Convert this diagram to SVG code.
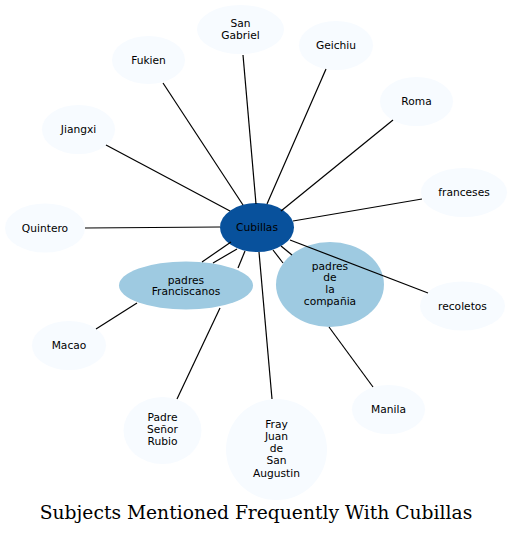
<svg xmlns="http://www.w3.org/2000/svg" width="512" height="536" viewBox="0 0 512 536">
<style>
.light{fill:#f7fbff;stroke:none}
.mid{fill:#9ecae1;stroke:none}
.dark{fill:#08519c;stroke:none}
text{font-family:"DejaVu Sans","Noto Sans",sans-serif;font-size:10.67px;fill:#000;text-anchor:middle}
.edges line{stroke:#000;stroke-width:1.2}
.title{font-family:"DejaVu Serif",serif;font-size:18.7px;text-anchor:middle}
</style>
<rect width="512" height="536" fill="#fff"/>
<g id="cubillas"><ellipse class="dark" cx="257" cy="227.5" rx="37" ry="24.5"/><text x="257" y="231.3">Cubillas</text></g>
<g id="sangabriel"><ellipse class="light" cx="240.5" cy="29.5" rx="43.5" ry="24.5"/><text x="240.5" y="26.8">San</text><text x="240.5" y="38.8">Gabriel</text></g>
<g id="fukien"><ellipse class="light" cx="148.5" cy="60" rx="36.5" ry="24"/><text x="148.5" y="63.8">Fukien</text></g>
<g id="geichiu"><ellipse class="light" cx="336" cy="45.5" rx="37" ry="24.5"/><text x="336" y="49.3">Geichiu</text></g>
<g id="roma"><ellipse class="light" cx="416.5" cy="101.5" rx="36.5" ry="24.5"/><text x="416.5" y="105.3">Roma</text></g>
<g id="jiangxi"><ellipse class="light" cx="78.5" cy="129.5" rx="36.5" ry="24.5"/><text x="78.5" y="133.3">Jiangxi</text></g>
<g id="franceses"><ellipse class="light" cx="464" cy="192.5" rx="43" ry="24.5"/><text x="464" y="196.3">franceses</text></g>
<g id="quintero"><ellipse class="light" cx="45" cy="228" rx="40" ry="24.5"/><text x="45" y="231.8">Quintero</text></g>
<g id="franciscanos"><ellipse class="mid" cx="186" cy="285.5" rx="67" ry="24"/><text x="186" y="283.8">padres</text><text x="186" y="295.3">Franciscanos</text></g>
<g id="compania"><ellipse class="mid" cx="330" cy="284.5" rx="54" ry="42.5"/><text x="330" y="269.8">padres</text><text x="330" y="281.4">de</text><text x="330" y="293">la</text><text x="330" y="304.6">compañia</text></g>
<g id="recoletos"><ellipse class="light" cx="462.5" cy="306" rx="42.5" ry="24.5"/><text x="462.5" y="309.8">recoletos</text></g>
<g id="macao"><ellipse class="light" cx="69" cy="345.5" rx="37" ry="24.5"/><text x="69" y="349.3">Macao</text></g>
<g id="manila"><ellipse class="light" cx="388.5" cy="409.5" rx="36.5" ry="24.5"/><text x="388.5" y="413.3">Manila</text></g>
<g id="rubio"><ellipse class="light" cx="162.5" cy="430.5" rx="39" ry="33.5"/><text x="162.5" y="421">Padre</text><text x="162.5" y="433">Señor</text><text x="162.5" y="445">Rubio</text></g>
<g id="frayjuan"><ellipse class="light" cx="276.5" cy="449.5" rx="50.5" ry="50.5"/><text x="276.5" y="428.1">Fray</text><text x="276.5" y="440.2">Juan</text><text x="276.5" y="452.3">de</text><text x="276.5" y="464.4">San</text><text x="276.5" y="476.5">Augustin</text></g>
<g class="edges" id="edges">
<line x1="243" y1="205" x2="163" y2="83"/>
<line x1="256" y1="204" x2="243" y2="55"/>
<line x1="267" y1="204" x2="326" y2="69"/>
<line x1="281" y1="211" x2="393" y2="120"/>
<line x1="293" y1="221" x2="422" y2="199"/>
<line x1="230" y1="211" x2="106" y2="145"/>
<line x1="220" y1="227" x2="85" y2="228"/>
<line x1="290" y1="240" x2="428" y2="293"/>
<line x1="231" y1="242" x2="202" y2="262"/>
<line x1="237" y1="249" x2="213" y2="263"/>
<line x1="245" y1="251" x2="238" y2="268"/>
<line x1="273" y1="250" x2="283" y2="263"/>
<line x1="281" y1="246" x2="292" y2="255"/>
<line x1="259" y1="252" x2="272" y2="399"/>
<line x1="220" y1="308" x2="177" y2="399"/>
<line x1="137" y1="303" x2="96" y2="329"/>
<line x1="329" y1="327" x2="373" y2="387"/>
</g>
<text class="title" x="256" y="518.5">Subjects Mentioned Frequently With Cubillas</text>
</svg>
